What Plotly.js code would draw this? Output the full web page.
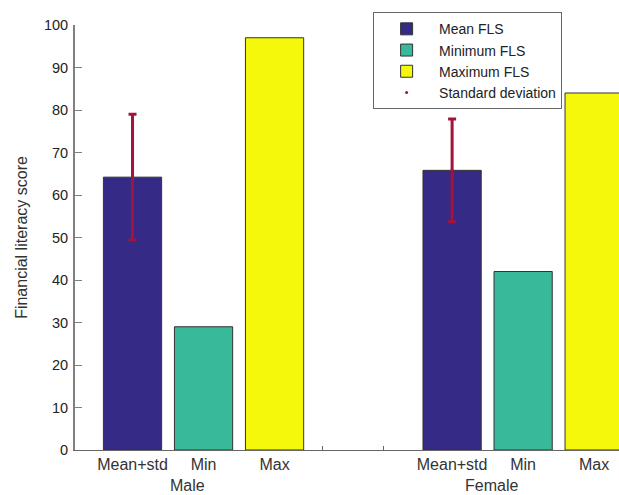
<!DOCTYPE html>
<html>
<head>
<meta charset="utf-8">
<script src="https://cdn.plot.ly/plotly-3.0.1.min.js"></script>
<style>html,body{margin:0;padding:0;background:#fff;}</style>
</head>
<body>
<div id="chart" style="width:619px;height:495px;"></div>
<script>
const groups = ['Male', 'Female'];
const barLabels = ['Mean+std', 'Min', 'Max'];
const meanFLS = [64.2, 65.8];
const minFLS = [29, 42];
const maxFLS = [97, 84];
const stdFLS = [14.8, 12.1];

// layout of slots along a numeric axis
const groupStart = [1, 5.5];
const groupLabelShift = [-0.23, -0.44];
const pos = (g, k) => groupStart[g] + k;
const xMean = groups.map((_, g) => pos(g, 0));
const xMin = groups.map((_, g) => pos(g, 1));
const xMax = groups.map((_, g) => pos(g, 2));
const tickvals = [], ticktext = [];
groups.forEach((_, g) => barLabels.forEach((lab, k) => { tickvals.push(pos(g, k)); ticktext.push(lab); }));

const FONT = 'Arial, Liberation Sans, sans-serif';
const outline = {color: '#333333', width: 1};
const bw = 0.82;
const traces = [
  {type: 'bar', name: 'Mean FLS', x: xMean, y: meanFLS, width: bw,
   marker: {color: '#352a86', line: outline}},
  {type: 'bar', name: 'Minimum FLS', x: xMin, y: minFLS, width: bw,
   marker: {color: '#38b99a', line: outline}},
  {type: 'bar', name: 'Maximum FLS', x: xMax, y: maxFLS, width: bw,
   marker: {color: '#f5f80a', line: outline}},
  {type: 'scatter', mode: 'markers', name: 'Standard deviation', x: xMean, y: meanFLS,
   marker: {color: '#a3143c', size: 3},
   error_y: {type: 'data', array: stdFLS, visible: true, color: '#a3143c', thickness: 3, width: 4}},
  // invisible helper to show the two small inside ticks on the x axis
  {type: 'scatter', mode: 'markers', x: [], y: [], xaxis: 'x2', yaxis: 'y', showlegend: false, hoverinfo: 'skip'}
];

const annotations = groups.map((g, i) => ({
  text: g, x: pos(i, 1) + groupLabelShift[i], xref: 'x', y: 0, yref: 'paper', yanchor: 'top', yshift: -26,
  showarrow: false, borderpad: 0, font: {family: FONT, size: 16, color: '#333'}
}));

const layout = {
  width: 619, height: 495,
  margin: {l: 75, r: 0, t: 25, b: 45},
  paper_bgcolor: '#fff', plot_bgcolor: '#fff',
  barmode: 'overlay',
  showlegend: true,
  legend: {x: 0.548, y: 1.03, xanchor: 'left', yanchor: 'top',
    bordercolor: '#666', borderwidth: 1, bgcolor: '#fff',
    font: {family: FONT, size: 14, color: '#222'},
    tracegroupgap: 0, itemwidth: 55},
  xaxis: {range: [0.19, 7.85], tickvals: tickvals, ticktext: ticktext,
    showline: true, linecolor: '#666', linewidth: 1, showgrid: false, zeroline: false,
    ticks: '', ticklen: 0,
    tickfont: {family: FONT, size: 16, color: '#333'}},
  xaxis2: {range: [0.19, 7.85], overlaying: 'x', anchor: 'y', side: 'bottom',
    tickvals: [3.67, 4.54], ticks: 'inside', ticklen: 4, tickcolor: '#666',
    showticklabels: false, showline: false, showgrid: false, zeroline: false},
  yaxis: {range: [0, 100], dtick: 10, showline: true, linecolor: '#808080', linewidth: 2,
    showgrid: false, zeroline: false, ticks: 'inside', ticklen: 7, tickcolor: '#808080',
    ticklabelstandoff: 2,
    tickfont: {family: FONT, size: 14.5, color: '#222'},
    title: {text: 'Financial literacy score', standoff: 12,
      font: {family: FONT, size: 16, color: '#333'}}},
  annotations: annotations
};

Plotly.newPlot('chart', traces, layout, {displayModeBar: false, staticPlot: true});
</script>
</body>
</html>
